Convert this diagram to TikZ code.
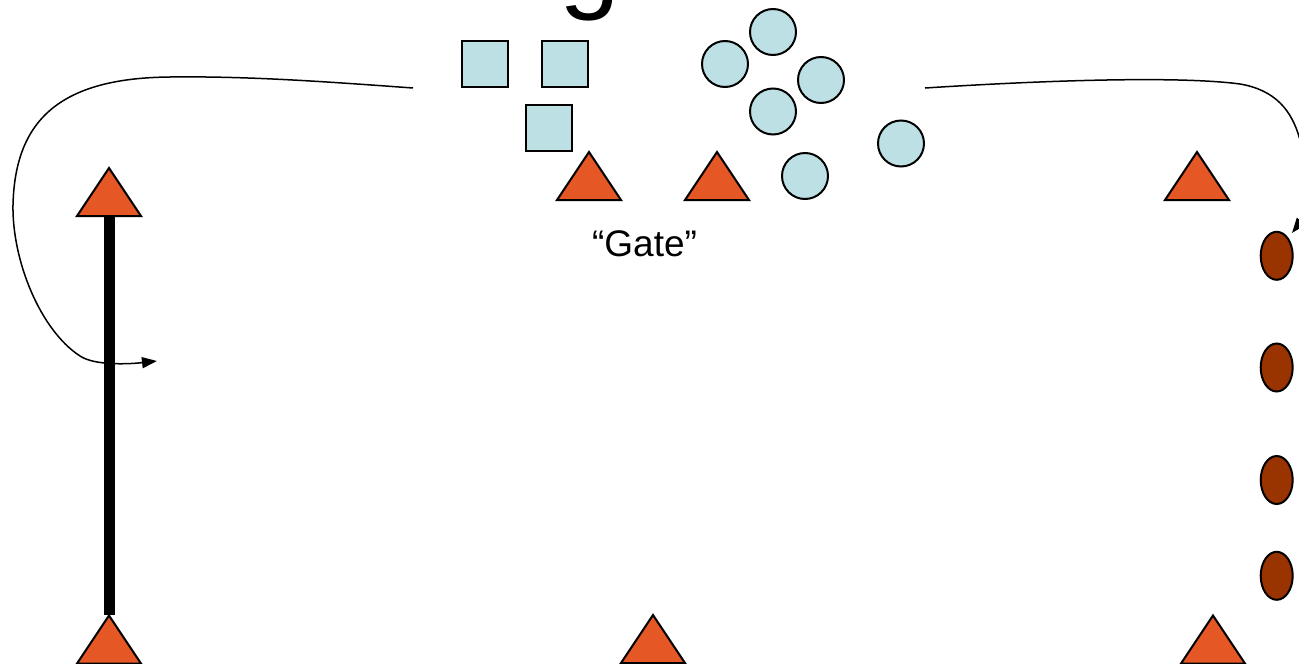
\documentclass[tikz,border=0pt]{standalone}
\usepackage{fontspec}
\setmainfont{Liberation Sans}
\usetikzlibrary{arrows.meta}
\definecolor{coneorange}{RGB}{229,87,37}
\definecolor{padblue}{RGB}{188,224,227}
\definecolor{markbrown}{RGB}{153,51,0}
\tikzset{
  cone/.pic={\draw[line width=2pt, line join=miter, fill=coneorange] (-32,0) -- (0,-48) -- (32,0) -- cycle;},
  sqpad/.style={draw, line width=2pt, fill=padblue, minimum size=46pt, inner sep=0pt, shape=rectangle},
  rdpad/.style={draw, line width=2pt, fill=padblue, minimum size=46pt, inner sep=0pt, shape=circle},
  marker/.style={draw, line width=2pt, fill=markbrown},
  runpath/.style={line width=1.5pt, -{Triangle[length=15pt,width=11pt]}},
}
\begin{document}
\begin{tikzpicture}[x=1pt,y=-1pt]
\useasboundingbox (0,0) rectangle (1299,664);
\clip (0,0) rectangle (1299,664);
% cropped title glyph
\node[anchor=base west, inner sep=0pt, font=\fontsize{109}{120}\selectfont] (title) at (559.5,-2) {g};
% squares
\node[sqpad] (s1) at (485,64) {};
\node[sqpad] (s2) at (565,64) {};
\node[sqpad] (s3) at (549,128) {};
% circles
\node[rdpad] (c1) at (725,64) {};
\node[rdpad] (c2) at (773,32) {};
\node[rdpad] (c3) at (821,80) {};
\node[rdpad] (c4) at (773,111.5) {};
\node[rdpad] (c5) at (805,176) {};
\node[rdpad] (c6) at (901,143.5) {};
% cones
\pic at (109,216) {cone};
\pic at (589,200) {cone};
\pic at (717,200) {cone};
\pic at (1197,200) {cone};
\pic at (109,663.5) {cone};
\pic at (653,663) {cone};
\pic at (1213,663.5) {cone};
% thick line
\coordinate (lt) at (109,216);
\coordinate (lb) at (109,615);
\draw[line width=11pt] (lt) -- (lb);
% brown markers
\foreach \yy [count=\i] in {255.8,367.5,480,575.8} {
  \draw[marker] (1276.7,\yy) ellipse [x radius=16pt, y radius=24pt];
}
% gate label
\node[anchor=base, inner sep=0pt, font=\fontsize{37}{42}\selectfont] (gate) at (644.5,256) {“Gate”};
% run paths
\coordinate (la) at (413,88);
\coordinate (lz) at (157,361);
\draw[runpath] (la) .. controls (330,82) and (250,76) .. (170,77)
  .. controls (60,78) and (15,120) .. (13,205)
  .. controls (12,260) and (40,330) .. (80,356)
  .. controls (95,366) and (130,364) .. (lz);
\coordinate (ra) at (925,88);
\coordinate (rz) at (1292,233);
\draw[runpath] (ra) .. controls (1050,80) and (1180,76) .. (1240,84)
  .. controls (1275,90) and (1292,110) .. (1300,140)
  .. controls (1306,165) and (1314,205) .. (rz);
\end{tikzpicture}
\end{document}
